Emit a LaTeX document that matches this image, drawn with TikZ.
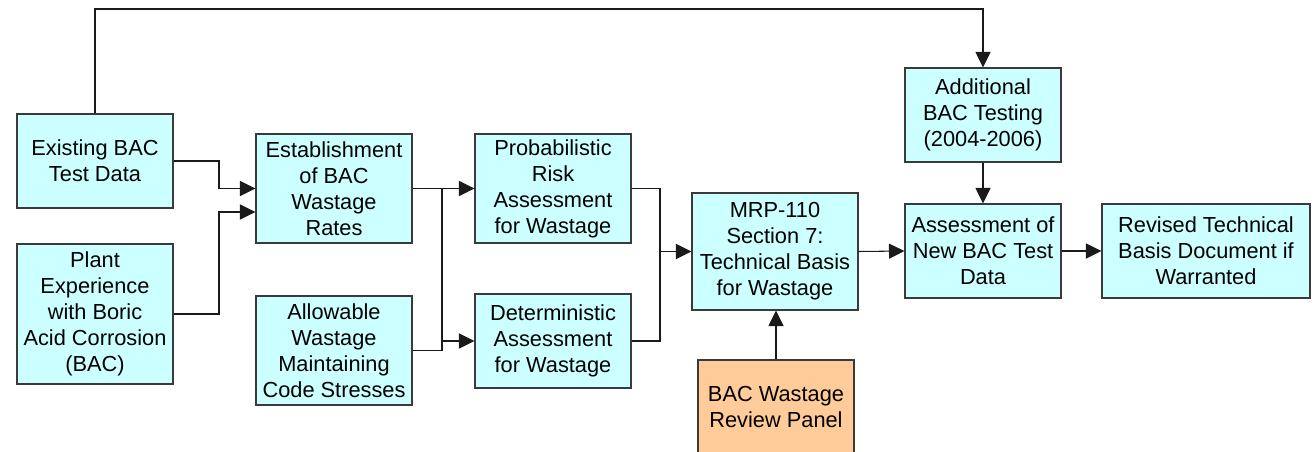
\documentclass[tikz,border=0pt]{standalone}
\usepackage{fontspec}
\setmainfont{Liberation Sans}
\usetikzlibrary{arrows.meta,calc}
\definecolor{boxFill}{HTML}{CCFFFF}
\definecolor{panelFill}{HTML}{FFCC99}
\definecolor{boxLine}{HTML}{3A3A3A}
\definecolor{wireLine}{HTML}{1A1A1A}

\begin{document}
\begin{tikzpicture}[every node/.style={align=center,font=\fontsize{12.4pt}{14.8pt}\selectfont,
                                       text=black},
    stage/.style={draw=boxLine,line width=0.6pt,fill=boxFill,inner sep=0pt,
                  minimum width=3.12cm,minimum height=1.88cm},
    review/.style={stage,fill=panelFill},
    wire/.style={draw=wireLine,line width=0.6pt},
    flow/.style={wire,-{Triangle[length=0.31cm,width=0.30cm]}}]
  \clip (0,0) rectangle (26.30,-9.04);
  % inputs
  \node[stage] (exist) at (1.90,-3.22) {Existing BAC\\Test Data};
  \node[stage,minimum height=2.80cm] (plant) at (1.90,-6.28)
        {Plant\\Experience\\with Boric\\Acid Corrosion\\(BAC)};
  \node[stage,minimum height=2.18cm] (estab) at (6.68,-3.77)
        {Establishment\\of BAC\\Wastage\\Rates};
  \node[stage,minimum height=2.18cm] (allow) at (6.68,-7.01)
        {Allowable\\Wastage\\Maintaining\\Code Stresses};
  % assessments
  \node[stage,minimum height=2.18cm] (prob) at (11.06,-3.77)
        {Probabilistic\\Risk\\Assessment\\for Wastage};
  \node[stage] (determ) at (11.06,-6.82)
        {Deterministic\\Assessment\\for Wastage};
  \node[stage,minimum width=3.32cm,minimum height=2.34cm] (mrp) at (15.50,-5.03)
        {MRP-110\\Section 7:\\Technical Basis\\for Wastage};
  \node[review] (panel) at (15.52,-8.14) {BAC Wastage\\Review Panel};
  % follow-up
  \node[stage] (addl) at (19.66,-2.30) {Additional\\BAC Testing\\(2004-2006)};
  \node[stage] (assess) at (19.66,-5.02) {Assessment of\\New BAC Test\\Data};
  \node[stage,minimum width=4.16cm] (revised) at (24.12,-5.02)
        {Revised Technical\\Basis Document if\\Warranted};
  % junction lines
  \coordinate (jnA) at (4.38,-4.24);
  \coordinate (jnB) at (8.84,0);
  \coordinate (jnC) at (13.20,0);
  \coordinate (topRun) at (0,-0.18);
  \draw[flow] (exist.east) -| (jnA |- estab.west) -- (estab.west);
  \draw[flow] (plant.east) -| (jnA) -- (jnA -| estab.west);
  \draw[flow] (estab.east) -- (prob.west);
  \draw[wire] (allow.east) -| (jnB |- estab.east);
  \draw[flow] (jnB |- determ.west) -- (determ.west);
  \draw[wire] (prob.east) -| (jnC |- determ.east) -- (determ.east);
  \draw[flow] (jnC |- mrp.west) -- (mrp.west);
  \draw[flow] (panel.north) -- (panel.north |- mrp.south);
  \draw[flow] (mrp.east) -- (assess.west);
  \draw[flow] (assess.east) -- (revised.west);
  \draw[flow] (addl.south) -- (assess.north);
  \draw[flow] (exist.north) |- (addl.north |- topRun) -- (addl.north);
\end{tikzpicture}
\end{document}
